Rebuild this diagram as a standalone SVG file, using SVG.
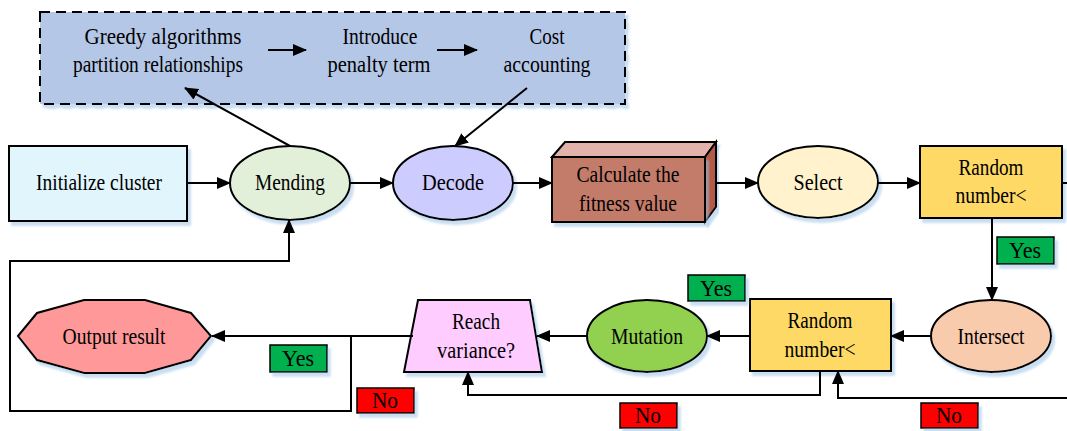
<svg xmlns="http://www.w3.org/2000/svg" width="1067" height="431" viewBox="0 0 1067 431">
<style>
text{font-family:"Liberation Serif","Times New Roman",serif;font-size:24px;fill:#000;text-anchor:middle}
text.s{font-size:23px}
.n{stroke:#000;stroke-width:2;filter:url(#sh)}
.c{fill:none;stroke:#000;stroke-width:2}
.a{marker-end:url(#ah)}
.yes{fill:#00B050;stroke:#000;stroke-width:1.5;filter:url(#sh)}
.no{fill:#FF0000;stroke:#000;stroke-width:1.5;filter:url(#sh)}
</style>
<defs>
<marker id="ah" markerWidth="14" markerHeight="12" refX="13" refY="6" orient="auto" markerUnits="userSpaceOnUse">
<path d="M0,0 L14,6 L0,12 Z" fill="#000"/>
</marker>
<filter id="sh" x="-10%" y="-10%" width="130%" height="140%">
<feDropShadow dx="3" dy="4" stdDeviation="1" flood-color="#9DC3E6" flood-opacity="0.55"/>
</filter>
</defs>

<g id="subprocess">
<rect x="40" y="12" width="585" height="92" fill="#B4C7E7" stroke="#000" stroke-width="2" stroke-dasharray="10,6" filter="url(#sh)"/>
<text x="163" y="44" textLength="157" lengthAdjust="spacingAndGlyphs">Greedy algorithms</text>
<text x="158" y="72" textLength="170" lengthAdjust="spacingAndGlyphs">partition relationships</text>
<text x="380" y="44" textLength="75" lengthAdjust="spacingAndGlyphs">Introduce</text>
<text x="379" y="72" textLength="103" lengthAdjust="spacingAndGlyphs">penalty term</text>
<text x="547" y="44" textLength="35" lengthAdjust="spacingAndGlyphs">Cost</text>
<text x="547" y="72" textLength="87" lengthAdjust="spacingAndGlyphs">accounting</text>
</g>

<g id="init">
<rect class="n" x="9" y="146" width="178" height="75" fill="#E1F6FC"/>
<text x="99" y="190" textLength="126" lengthAdjust="spacingAndGlyphs">Initialize cluster</text>
</g>
<g id="mending">
<ellipse class="n" cx="290" cy="183" rx="60" ry="37" fill="#E2EFD9"/>
<text x="290" y="190" textLength="70" lengthAdjust="spacingAndGlyphs">Mending</text>
</g>
<g id="decode">
<ellipse class="n" cx="453" cy="183" rx="60" ry="37" fill="#CCCCFF"/>
<text x="453" y="190" textLength="62" lengthAdjust="spacingAndGlyphs">Decode</text>
</g>
<g id="fitness">
<polygon class="n" points="552,157 565,142 716,142 705,157" fill="#E2B3AA"/>
<polygon class="n" points="705,157 716,142 716,207 705,222" fill="#B25A45"/>
<rect class="n" x="552" y="157" width="153" height="65" fill="#C47B6B"/>
<text x="628" y="182" textLength="103" lengthAdjust="spacingAndGlyphs">Calculate the</text>
<text x="628" y="211" textLength="98" lengthAdjust="spacingAndGlyphs">fitness value</text>
</g>
<g id="select">
<ellipse class="n" cx="818" cy="182" rx="60" ry="36" fill="#FFF2CC"/>
<text x="818" y="190" textLength="49" lengthAdjust="spacingAndGlyphs">Select</text>
</g>
<g id="random1">
<rect class="n" x="920" y="146" width="142" height="72" fill="#FFD966"/>
<text x="991" y="175" textLength="65" lengthAdjust="spacingAndGlyphs">Random</text>
<text x="991" y="203" textLength="71" lengthAdjust="spacingAndGlyphs">number&lt;</text>
</g>
<g id="intersect">
<ellipse class="n" cx="991" cy="336" rx="60" ry="36" fill="#F8CBAD"/>
<text x="991" y="344" textLength="67" lengthAdjust="spacingAndGlyphs">Intersect</text>
</g>
<g id="random2">
<rect class="n" x="750" y="299" width="141" height="72" fill="#FFD966"/>
<text x="820" y="328" textLength="65" lengthAdjust="spacingAndGlyphs">Random</text>
<text x="820" y="357" textLength="71" lengthAdjust="spacingAndGlyphs">number&lt;</text>
</g>
<g id="mutation">
<ellipse class="n" cx="647" cy="336" rx="60" ry="36" fill="#92D050"/>
<text x="647" y="344" textLength="72" lengthAdjust="spacingAndGlyphs">Mutation</text>
</g>
<g id="reach">
<polygon class="n" points="418,300 530,300 542,372 404,372" fill="#FFCCFF"/>
<text x="476" y="329" textLength="48" lengthAdjust="spacingAndGlyphs">Reach</text>
<text x="476" y="358" textLength="78" lengthAdjust="spacingAndGlyphs">variance?</text>
</g>
<g id="output">
<polygon class="n" points="18,336 37,313 84,300 145,300 191,313 211,336 191,360 145,373 84,373 37,360" fill="#FF9999"/>
<text x="114" y="344" textLength="103" lengthAdjust="spacingAndGlyphs">Output result</text>
</g>

<g id="labels">
<rect class="yes" x="997" y="237" width="57" height="27"/>
<text class="s" x="1025" y="258" textLength="32" lengthAdjust="spacingAndGlyphs">Yes</text>
<rect class="yes" x="688" y="275" width="57" height="26"/>
<text class="s" x="716" y="296" textLength="32" lengthAdjust="spacingAndGlyphs">Yes</text>
<rect class="yes" x="270" y="345" width="57" height="27"/>
<text class="s" x="298" y="366" textLength="32" lengthAdjust="spacingAndGlyphs">Yes</text>
<rect class="no" x="357" y="388" width="57" height="25"/>
<text class="s" x="385" y="408" textLength="26" lengthAdjust="spacingAndGlyphs">No</text>
<rect class="no" x="620" y="403" width="57" height="25"/>
<text class="s" x="648" y="423" textLength="26" lengthAdjust="spacingAndGlyphs">No</text>
<rect class="no" x="921" y="403" width="57" height="25"/>
<text class="s" x="949" y="423" textLength="26" lengthAdjust="spacingAndGlyphs">No</text>
</g>

<g id="connectors">
<path class="c a" d="M268 50 L306 50"/>
<path class="c a" d="M437 50 L477 50"/>
<path class="c a" d="M290 146 L185 88"/>
<path class="c a" d="M527 88 L455 146"/>
<path class="c a" d="M187 183 L230 183"/>
<path class="c a" d="M350 183 L393 183"/>
<path class="c a" d="M513 183 L552 183"/>
<path class="c a" d="M716 183 L758 183"/>
<path class="c a" d="M878 183 L920 183"/>
<path class="c" d="M1062 183 L1067 183"/>
<path class="c a" d="M992 218 L992 300"/>
<path class="c a" d="M931 336 L891 336"/>
<path class="c a" d="M750 336 L707 336"/>
<path class="c a" d="M587 336 L537 336"/>
<path class="c a" d="M413 336 L212 336"/>
<path class="c a" d="M351 336 L351 411 L10 411 L10 261 L289 261 L289 220"/>
<path class="c a" d="M820 371 L820 395 L468 395 L468 372"/>
<path class="c a" d="M1067 398 L838 398 L838 371"/>
</g>
</svg>
